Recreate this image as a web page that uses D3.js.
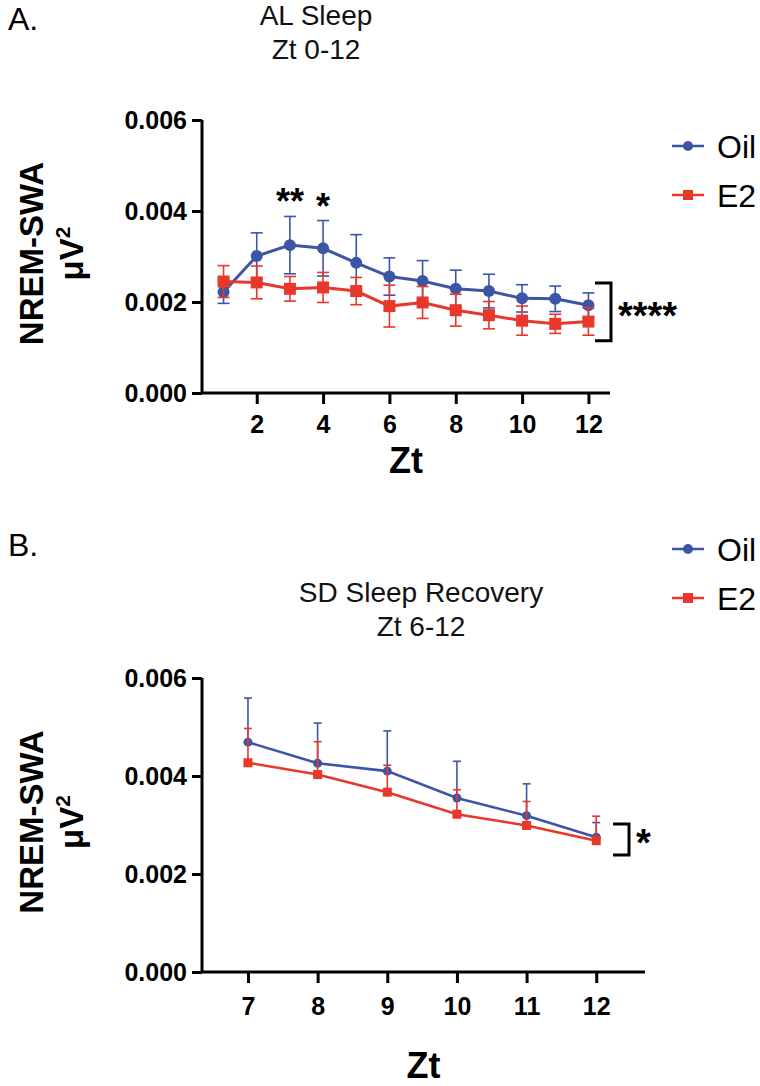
<!DOCTYPE html>
<html>
<head>
<meta charset="utf-8">
<script src="https://cdn.jsdelivr.net/npm/d3@7"></script>
<style>
  html, body { margin: 0; padding: 0; background: #fff; }
  svg { display: block; font-family: "Liberation Sans", Arial, sans-serif; }
</style>
</head>
<body>
<svg id="chart" width="760" height="1086"></svg>
<script>
// ---------- data ----------
const seriesNames = ["Oil", "E2"];
const yTicks = [0, 0.002, 0.004, 0.006];

const ztA = [1, 2, 3, 4, 5, 6, 7, 8, 9, 10, 11, 12];
const ztATicks = [2, 4, 6, 8, 10, 12];
const oilA = [0.00222, 0.00301, 0.00325, 0.00318, 0.00286, 0.00256, 0.00246, 0.00229, 0.00224, 0.00208, 0.00207, 0.00193];
const oilAErr = [0.00025, 0.00051, 0.00063, 0.00061, 0.00062, 0.00041, 0.00045, 0.00041, 0.00037, 0.00030, 0.00028, 0.00027];
const e2A = [0.00245, 0.00243, 0.00229, 0.00232, 0.00224, 0.00191, 0.00199, 0.00182, 0.00171, 0.00159, 0.00152, 0.00157];
const e2AErr = [0.00035, 0.00036, 0.00027, 0.00033, 0.00030, 0.00046, 0.00035, 0.00035, 0.00030, 0.00032, 0.00021, 0.00030];
const sigA = [{ zt: 3, label: "**", value: 0.00388 }, { zt: 4, label: "*", value: 0.00379 }];

const ztB = [7, 8, 9, 10, 11, 12];
const oilB = [0.00469, 0.00426, 0.00410, 0.00355, 0.00319, 0.00275];
const oilBErr = [0.00090, 0.00082, 0.00082, 0.00075, 0.00065, 0.00030];
const e2B = [0.00427, 0.00403, 0.00367, 0.00322, 0.00299, 0.00268];
const e2BErr = [0.00070, 0.00067, 0.00055, 0.00050, 0.00049, 0.00050];

const BLUE = "#3d55a5";
const RED = "#e8372b";

const svg = d3.select("#chart");
const FONT = '"Liberation Sans", Arial, sans-serif';

function drawPanel(cfg) {
  const g = svg.append("g");
  const x = d3.scaleLinear().domain(cfg.xDomain).range([cfg.left, cfg.right]);
  const y = d3.scaleLinear().domain([0, 0.006]).range([cfg.bottom, cfg.top]);

  // panel letter
  g.append("text").attr("x", 8).attr("y", cfg.letterY)
    .attr("font-size", 32).attr("fill", "#000").text(cfg.letter);

  // title
  cfg.title.forEach((t, i) => {
    g.append("text").attr("x", cfg.titleX).attr("y", cfg.titleY + i * 34)
      .attr("text-anchor", "middle").attr("font-size", 28).attr("fill", "#111").text(t);
  });

  // y axis
  const ya = g.append("g").attr("transform", `translate(${cfg.left},0)`)
    .call(d3.axisLeft(y).tickValues(yTicks).tickSize(10).tickPadding(5).tickFormat(d3.format(".3f")));
  ya.select(".domain").attr("stroke-width", 3).attr("d", `M0,${cfg.bottom}V${cfg.top}`);
  ya.selectAll(".tick line").attr("stroke-width", 3);
  ya.selectAll(".tick text").attr("font-family", FONT).attr("font-size", 25)
    .attr("font-weight", "bold").attr("fill", "#000").attr("dy", "0.35em");

  // x axis
  const xa = g.append("g").attr("transform", `translate(0,${cfg.bottom})`)
    .call(d3.axisBottom(x).tickValues(cfg.xTicks).tickSize(11).tickPadding(cfg.xPad).tickFormat(d3.format("d")));
  xa.select(".domain").attr("stroke-width", 3).attr("d", `M${cfg.left},0H${cfg.right}`);
  xa.selectAll(".tick line").attr("stroke-width", 3);
  xa.selectAll(".tick text").attr("font-family", FONT).attr("font-size", 25)
    .attr("font-weight", "bold").attr("fill", "#000");

  // axis titles
  g.append("text").attr("x", (cfg.left + cfg.right) / 2).attr("y", cfg.xTitleY)
    .attr("text-anchor", "middle").attr("font-size", 36).attr("font-weight", "bold").text("Zt");

  const yMid = (cfg.top + cfg.bottom) / 2 - 3;
  const yt = g.append("g").attr("transform", `translate(0,${yMid}) rotate(-90)`);
  yt.append("text").attr("x", 0).attr("y", 43).attr("text-anchor", "middle")
    .attr("font-size", 33).attr("font-weight", "bold").text("NREM-SWA");
  const t2 = yt.append("text").attr("x", 0).attr("y", 83).attr("text-anchor", "middle")
    .attr("font-size", 33).attr("font-weight", "bold");
  t2.append("tspan").text("μV");
  t2.append("tspan").attr("font-size", 21).attr("dy", -13).text("2");

  // series
  const series = [
    { name: seriesNames[0], zt: cfg.zt, v: cfg.oil, e: cfg.oilErr, color: BLUE, shape: "circle" },
    { name: seriesNames[1], zt: cfg.zt, v: cfg.e2, e: cfg.e2Err, color: RED, shape: "square" }
  ];
  series.forEach(s => {
    const sg = g.append("g");
    // error bars
    s.zt.forEach((z, i) => {
      const cx = x(z);
      const hi = y(s.v[i] + s.e[i]);
      const lo = cfg.bothErr ? y(s.v[i] - s.e[i]) : y(s.v[i]);
      sg.append("line").attr("x1", cx).attr("x2", cx).attr("y1", hi).attr("y2", lo)
        .attr("stroke", s.color).attr("stroke-width", 1.6);
      sg.append("line").attr("x1", cx - cfg.cap).attr("x2", cx + cfg.cap).attr("y1", hi).attr("y2", hi)
        .attr("stroke", s.color).attr("stroke-width", 1.6);
      if (cfg.bothErr) {
        sg.append("line").attr("x1", cx - cfg.cap).attr("x2", cx + cfg.cap).attr("y1", lo).attr("y2", lo)
          .attr("stroke", s.color).attr("stroke-width", 1.6);
      }
    });
    // line
    const line = d3.line().x((d, i) => x(s.zt[i])).y(d => y(d));
    sg.append("path").datum(s.v).attr("d", line).attr("fill", "none")
      .attr("stroke", s.color).attr("stroke-width", cfg.lineW);
    // markers
    s.v.forEach((v, i) => {
      if (s.shape === "circle") {
        sg.append("circle").attr("cx", x(s.zt[i])).attr("cy", y(v)).attr("r", cfg.mSize / 2).attr("fill", s.color);
      } else {
        sg.append("rect").attr("x", x(s.zt[i]) - cfg.mSize / 2).attr("y", y(v) - cfg.mSize / 2)
          .attr("width", cfg.mSize).attr("height", cfg.mSize).attr("fill", s.color);
      }
    });
  });

  // significance stars over points
  (cfg.sig || []).forEach(s => {
    g.append("text").attr("x", x(s.zt)).attr("y", y(s.value) - 2)
      .attr("text-anchor", "middle").attr("font-size", 36).attr("font-weight", "bold").text(s.label);
  });

  // bracket
  const b = cfg.bracket;
  const by1 = y(b.top), by2 = y(b.bottom);
  g.append("path").attr("d", `M${b.x - 16},${by1}H${b.x}V${by2}H${b.x - 16}`)
    .attr("fill", "none").attr("stroke", "#000").attr("stroke-width", 3);
  g.append("text").attr("x", b.x + 7).attr("y", (by1 + by2) / 2 + 17)
    .attr("font-size", 38).attr("font-weight", "bold").text(b.label);

  // legend
  series.forEach((s, i) => {
    const ly = cfg.legendY + i * cfg.legendGap;
    g.append("line").attr("x1", 672).attr("x2", 704).attr("y1", ly).attr("y2", ly)
      .attr("stroke", s.color).attr("stroke-width", 2.5);
    if (s.shape === "circle") {
      g.append("circle").attr("cx", 688).attr("cy", ly).attr("r", 5).attr("fill", s.color);
    } else {
      g.append("rect").attr("x", 683).attr("y", ly - 5).attr("width", 10).attr("height", 10).attr("fill", s.color);
    }
    g.append("text").attr("x", 717).attr("y", ly + 11.5).attr("font-size", 32).attr("fill", "#000").text(s.name);
  });
}

drawPanel({
  letter: "A.", letterY: 30,
  title: ["AL Sleep", "Zt 0-12"], titleX: 316, titleY: 25,
  left: 202, right: 610, top: 120, bottom: 393,
  xDomain: [0.35, 12.65], xTicks: ztATicks, xPad: 11, xTitleY: 473,
  zt: ztA, oil: oilA, oilErr: oilAErr, e2: e2A, e2Err: e2AErr,
  bothErr: true, cap: 6, lineW: 3, mSize: 12,
  sig: sigA,
  bracket: { x: 611, top: 0.00242, bottom: 0.00115, label: "****" },
  legendY: 146, legendGap: 49
});

drawPanel({
  letter: "B.", letterY: 556,
  title: ["SD Sleep Recovery", "Zt 6-12"], titleX: 421, titleY: 602,
  left: 202, right: 645, top: 678, bottom: 972,
  xDomain: [6.34, 12.7], xTicks: ztB, xPad: 14, xTitleY: 1078,
  zt: ztB, oil: oilB, oilErr: oilBErr, e2: e2B, e2Err: e2BErr,
  bothErr: false, cap: 4, lineW: 2.6, mSize: 9,
  sig: [],
  bracket: { x: 629, top: 0.00302, bottom: 0.00239, label: "*" },
  legendY: 549, legendGap: 49
});
</script>
</body>
</html>
